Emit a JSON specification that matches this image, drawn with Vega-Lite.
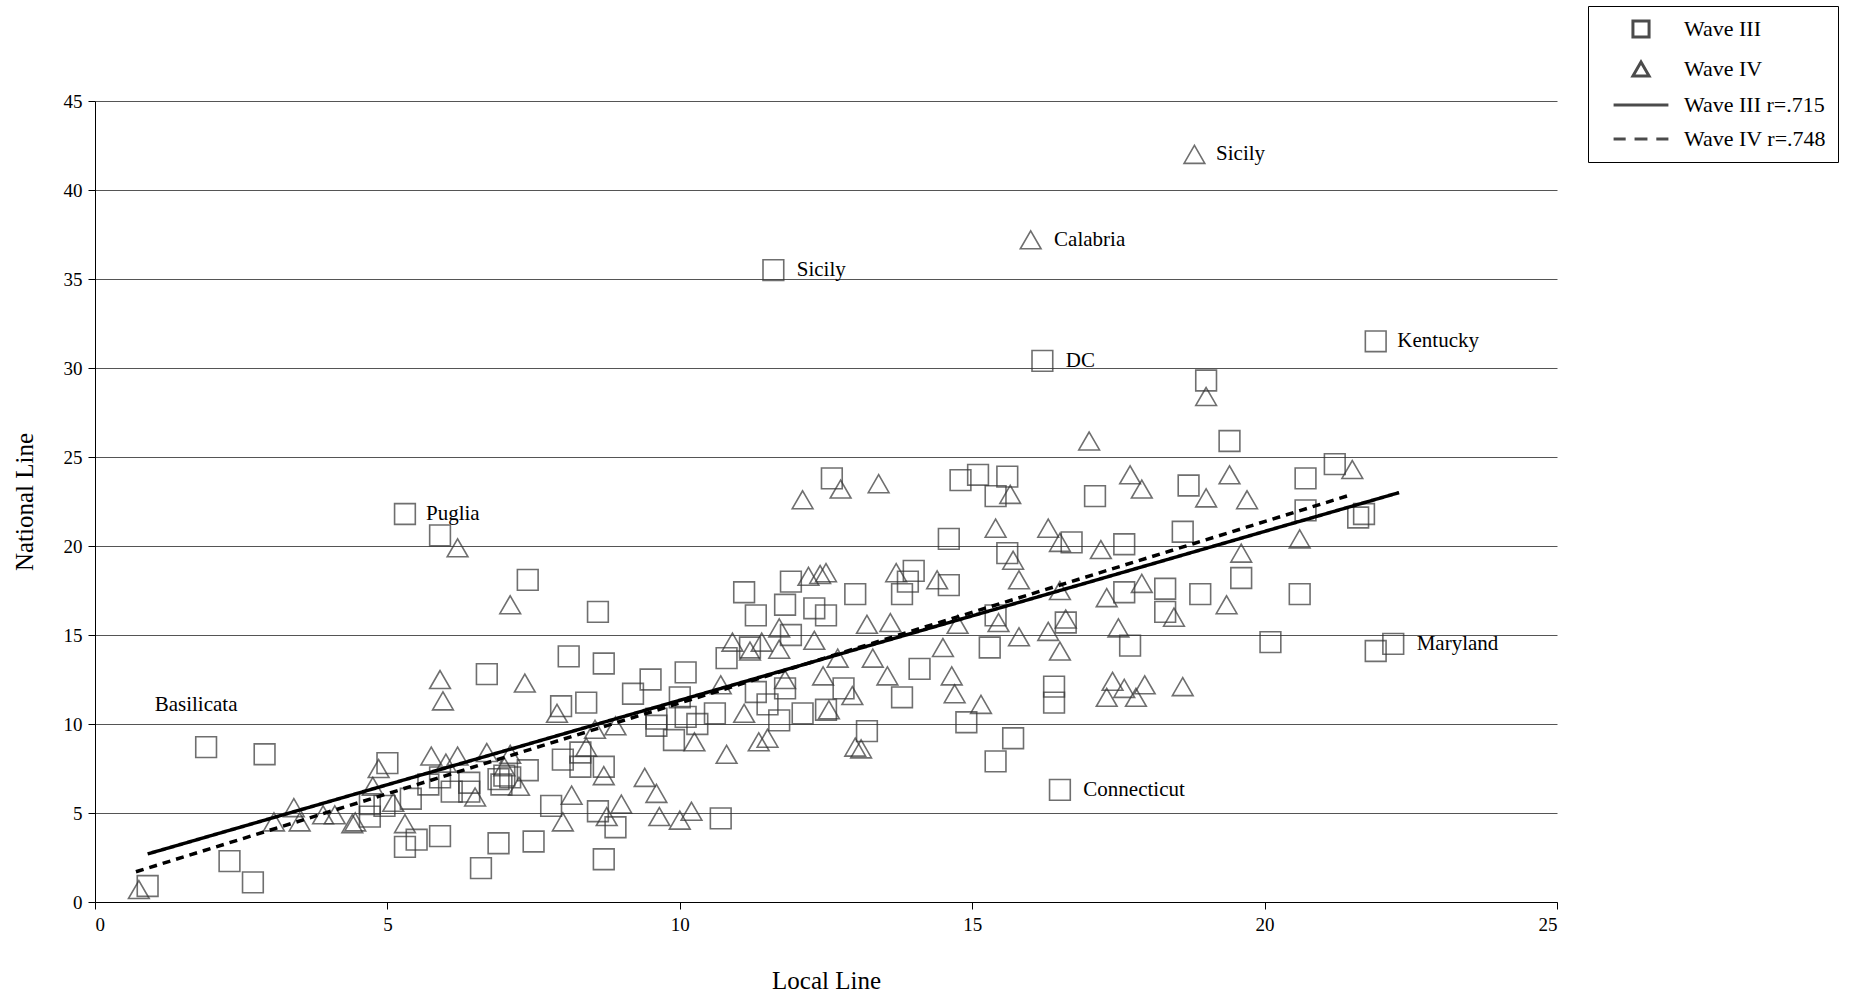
{
  "$schema": "https://vega.github.io/schema/vega-lite/v6.json",
  "width": 1462,
  "height": 801,
  "autosize": "none",
  "padding": {"left": 95, "top": 101, "right": 309, "bottom": 97},
  "config": {
    "font": "Liberation Serif",
    "view": {"stroke": null},
    "axis": {"labelFont": "Liberation Serif", "titleFont": "Liberation Serif", "labelFontSize": 19, "titleFontSize": 25, "titleFontWeight": "normal", "labelColor": "#000", "titleColor": "#000", "domainColor": "#000", "tickColor": "#000"}
  },
  "datasets": {
    "pts": [
      {"s":"Wave III","x":0.9,"y":0.9},{"s":"Wave III","x":2.3,"y":2.3},{"s":"Wave III","x":1.9,"y":8.7},{"s":"Wave III","x":2.9,"y":8.3},
      {"s":"Wave III","x":2.7,"y":1.1},{"s":"Wave III","x":5.3,"y":21.8},{"s":"Wave III","x":5.9,"y":20.6},{"s":"Wave III","x":4.95,"y":5.4},
      {"s":"Wave III","x":5.0,"y":7.8},{"s":"Wave III","x":5.3,"y":3.1},{"s":"Wave III","x":5.5,"y":3.5},{"s":"Wave III","x":5.9,"y":3.7},
      {"s":"Wave III","x":6.6,"y":1.9},{"s":"Wave III","x":6.9,"y":3.3},{"s":"Wave III","x":7.5,"y":3.4},{"s":"Wave III","x":6.7,"y":12.8},
      {"s":"Wave III","x":7.4,"y":18.1},{"s":"Wave III","x":8.1,"y":13.8},{"s":"Wave III","x":8.6,"y":16.3},{"s":"Wave III","x":8.7,"y":13.4},
      {"s":"Wave III","x":8.7,"y":2.4},{"s":"Wave III","x":8.9,"y":4.2},{"s":"Wave III","x":8.6,"y":5.1},{"s":"Wave III","x":11.6,"y":35.5},
      {"s":"Wave III","x":16.2,"y":30.4},{"s":"Wave III","x":21.9,"y":31.5},{"s":"Wave III","x":19.0,"y":29.3},{"s":"Wave III","x":22.2,"y":14.5},
      {"s":"Wave III","x":21.9,"y":14.1},{"s":"Wave III","x":16.5,"y":6.3},{"s":"Wave III","x":20.1,"y":14.6},{"s":"Wave III","x":20.6,"y":17.3},
      {"s":"Wave III","x":20.7,"y":22.0},{"s":"Wave III","x":20.7,"y":23.8},{"s":"Wave III","x":21.2,"y":24.6},{"s":"Wave III","x":21.6,"y":21.6},
      {"s":"Wave III","x":21.7,"y":21.8},{"s":"Wave III","x":19.4,"y":25.9},{"s":"Wave III","x":19.6,"y":18.2},{"s":"Wave III","x":18.9,"y":17.3},
      {"s":"Wave III","x":18.7,"y":23.4},{"s":"Wave III","x":18.6,"y":20.8},{"s":"Wave III","x":18.3,"y":16.3},{"s":"Wave III","x":18.3,"y":17.6},
      {"s":"Wave III","x":17.7,"y":14.4},{"s":"Wave III","x":17.6,"y":17.4},{"s":"Wave III","x":17.6,"y":20.1},{"s":"Wave III","x":17.1,"y":22.8},
      {"s":"Wave III","x":16.7,"y":20.2},{"s":"Wave III","x":16.6,"y":15.7},{"s":"Wave III","x":16.4,"y":12.1},{"s":"Wave III","x":16.4,"y":11.2},
      {"s":"Wave III","x":15.7,"y":9.2},{"s":"Wave III","x":15.4,"y":7.9},{"s":"Wave III","x":14.9,"y":10.1},{"s":"Wave III","x":14.8,"y":23.7},
      {"s":"Wave III","x":15.1,"y":24.0},{"s":"Wave III","x":15.4,"y":22.8},{"s":"Wave III","x":15.6,"y":23.9},{"s":"Wave III","x":15.6,"y":19.6},
      {"s":"Wave III","x":15.4,"y":16.1},{"s":"Wave III","x":15.3,"y":14.3},{"s":"Wave III","x":14.6,"y":17.8},{"s":"Wave III","x":14.6,"y":20.4},
      {"s":"Wave III","x":14.0,"y":18.6},{"s":"Wave III","x":13.9,"y":18.0},{"s":"Wave III","x":13.8,"y":17.3},{"s":"Wave III","x":14.1,"y":13.1},
      {"s":"Wave III","x":13.8,"y":11.5},{"s":"Wave III","x":13.2,"y":9.6},{"s":"Wave III","x":13.0,"y":17.3},{"s":"Wave III","x":12.8,"y":12.0},
      {"s":"Wave III","x":12.6,"y":23.8},{"s":"Wave III","x":12.5,"y":16.1},{"s":"Wave III","x":12.3,"y":16.5},{"s":"Wave III","x":12.1,"y":10.6},
      {"s":"Wave III","x":11.9,"y":18.0},{"s":"Wave III","x":11.8,"y":16.7},{"s":"Wave III","x":11.8,"y":12.0},{"s":"Wave III","x":11.7,"y":10.2},
      {"s":"Wave III","x":11.3,"y":16.1},{"s":"Wave III","x":11.1,"y":17.4},{"s":"Wave III","x":10.8,"y":13.7},{"s":"Wave III","x":11.3,"y":11.8},
      {"s":"Wave III","x":11.5,"y":11.1},{"s":"Wave III","x":10.7,"y":4.7},{"s":"Wave III","x":10.6,"y":10.6},{"s":"Wave III","x":10.1,"y":12.9},
      {"s":"Wave III","x":10.1,"y":10.4},{"s":"Wave III","x":10.0,"y":11.5},{"s":"Wave III","x":9.9,"y":9.1},{"s":"Wave III","x":9.6,"y":9.9},
      {"s":"Wave III","x":9.5,"y":12.5},{"s":"Wave III","x":9.2,"y":11.7},{"s":"Wave III","x":8.4,"y":11.2},{"s":"Wave III","x":8.3,"y":7.6},
      {"s":"Wave III","x":8.3,"y":8.4},{"s":"Wave III","x":8.0,"y":8.0},{"s":"Wave III","x":7.97,"y":11.0},{"s":"Wave III","x":7.8,"y":5.4},
      {"s":"Wave III","x":7.4,"y":7.4},{"s":"Wave III","x":7.0,"y":7.1},{"s":"Wave III","x":6.95,"y":6.6},{"s":"Wave III","x":6.4,"y":6.7},
      {"s":"Wave III","x":6.4,"y":6.2},{"s":"Wave III","x":6.1,"y":6.2},{"s":"Wave III","x":5.9,"y":7.0},{"s":"Wave III","x":5.7,"y":6.6},
      {"s":"Wave III","x":5.4,"y":5.8},{"s":"Wave III","x":4.7,"y":5.5},{"s":"Wave III","x":4.7,"y":4.8},{"s":"Wave III","x":8.7,"y":7.6},
      {"s":"Wave III","x":9.6,"y":10.3},{"s":"Wave III","x":10.3,"y":10.0},{"s":"Wave III","x":11.2,"y":14.3},{"s":"Wave III","x":11.9,"y":15.0},
      {"s":"Wave III","x":12.5,"y":10.8},{"s":"Wave III","x":6.9,"y":6.9},{"s":"Wave III","x":7.1,"y":7.0},
      {"s":"Wave IV","x":0.75,"y":0.7},{"s":"Wave IV","x":3.06,"y":4.5},{"s":"Wave IV","x":3.4,"y":5.3},{"s":"Wave IV","x":3.5,"y":4.5},
      {"s":"Wave IV","x":3.9,"y":4.9},{"s":"Wave IV","x":4.1,"y":4.9},{"s":"Wave IV","x":4.4,"y":4.4},{"s":"Wave IV","x":4.45,"y":4.5},
      {"s":"Wave IV","x":4.75,"y":6.5},{"s":"Wave IV","x":4.85,"y":7.5},{"s":"Wave IV","x":5.1,"y":5.6},{"s":"Wave IV","x":5.3,"y":4.4},
      {"s":"Wave IV","x":5.75,"y":8.2},{"s":"Wave IV","x":5.9,"y":12.5},{"s":"Wave IV","x":5.95,"y":11.3},{"s":"Wave IV","x":6.0,"y":7.8},
      {"s":"Wave IV","x":6.2,"y":19.9},{"s":"Wave IV","x":6.2,"y":8.2},{"s":"Wave IV","x":6.5,"y":5.9},{"s":"Wave IV","x":6.7,"y":8.4},
      {"s":"Wave IV","x":7.1,"y":8.3},{"s":"Wave IV","x":7.1,"y":16.7},{"s":"Wave IV","x":7.25,"y":6.5},{"s":"Wave IV","x":7.35,"y":12.3},
      {"s":"Wave IV","x":7.9,"y":10.6},{"s":"Wave IV","x":8.0,"y":4.5},{"s":"Wave IV","x":8.15,"y":6.0},{"s":"Wave IV","x":8.4,"y":8.7},
      {"s":"Wave IV","x":8.55,"y":9.7},{"s":"Wave IV","x":8.7,"y":7.1},{"s":"Wave IV","x":8.75,"y":4.8},{"s":"Wave IV","x":8.9,"y":9.9},
      {"s":"Wave IV","x":9.0,"y":5.5},{"s":"Wave IV","x":9.4,"y":7.0},{"s":"Wave IV","x":9.6,"y":6.1},{"s":"Wave IV","x":9.65,"y":4.8},
      {"s":"Wave IV","x":10.0,"y":4.6},{"s":"Wave IV","x":10.2,"y":5.1},{"s":"Wave IV","x":10.25,"y":9.0},{"s":"Wave IV","x":10.8,"y":8.3},
      {"s":"Wave IV","x":10.7,"y":12.2},{"s":"Wave IV","x":10.9,"y":14.6},{"s":"Wave IV","x":11.1,"y":10.6},{"s":"Wave IV","x":11.2,"y":14.1},
      {"s":"Wave IV","x":11.4,"y":14.6},{"s":"Wave IV","x":11.5,"y":9.2},{"s":"Wave IV","x":11.7,"y":15.4},{"s":"Wave IV","x":11.8,"y":12.5},
      {"s":"Wave IV","x":11.7,"y":14.2},{"s":"Wave IV","x":12.1,"y":22.6},{"s":"Wave IV","x":12.3,"y":14.7},{"s":"Wave IV","x":12.4,"y":18.4},
      {"s":"Wave IV","x":12.5,"y":18.5},{"s":"Wave IV","x":12.45,"y":12.7},{"s":"Wave IV","x":12.55,"y":10.8},{"s":"Wave IV","x":12.7,"y":13.7},
      {"s":"Wave IV","x":12.75,"y":23.2},{"s":"Wave IV","x":12.95,"y":11.6},{"s":"Wave IV","x":13.0,"y":8.7},{"s":"Wave IV","x":13.1,"y":8.6},
      {"s":"Wave IV","x":13.2,"y":15.6},{"s":"Wave IV","x":13.3,"y":13.7},{"s":"Wave IV","x":13.4,"y":23.5},{"s":"Wave IV","x":13.55,"y":12.7},
      {"s":"Wave IV","x":13.6,"y":15.7},{"s":"Wave IV","x":13.7,"y":18.5},{"s":"Wave IV","x":14.4,"y":18.1},{"s":"Wave IV","x":14.5,"y":14.3},
      {"s":"Wave IV","x":14.65,"y":12.7},{"s":"Wave IV","x":14.7,"y":11.7},{"s":"Wave IV","x":14.75,"y":15.6},{"s":"Wave IV","x":15.15,"y":11.1},
      {"s":"Wave IV","x":15.4,"y":21.0},{"s":"Wave IV","x":15.65,"y":22.9},{"s":"Wave IV","x":15.7,"y":19.2},{"s":"Wave IV","x":15.8,"y":18.1},
      {"s":"Wave IV","x":15.8,"y":14.9},{"s":"Wave IV","x":16.3,"y":21.0},{"s":"Wave IV","x":16.3,"y":15.2},{"s":"Wave IV","x":16.5,"y":20.2},
      {"s":"Wave IV","x":16.5,"y":17.5},{"s":"Wave IV","x":16.5,"y":14.1},{"s":"Wave IV","x":16.6,"y":15.9},{"s":"Wave IV","x":17.0,"y":25.9},
      {"s":"Wave IV","x":17.2,"y":19.8},{"s":"Wave IV","x":17.3,"y":17.1},{"s":"Wave IV","x":17.3,"y":11.5},{"s":"Wave IV","x":17.4,"y":12.4},
      {"s":"Wave IV","x":17.5,"y":15.4},{"s":"Wave IV","x":17.6,"y":12.0},{"s":"Wave IV","x":17.7,"y":24.0},{"s":"Wave IV","x":17.8,"y":11.5},
      {"s":"Wave IV","x":17.9,"y":17.9},{"s":"Wave IV","x":17.95,"y":12.2},{"s":"Wave IV","x":17.9,"y":23.2},{"s":"Wave IV","x":18.45,"y":16.0},
      {"s":"Wave IV","x":18.6,"y":12.1},{"s":"Wave IV","x":19.0,"y":22.7},{"s":"Wave IV","x":19.0,"y":28.4},{"s":"Wave IV","x":18.8,"y":42.0},
      {"s":"Wave IV","x":16.0,"y":37.2},{"s":"Wave IV","x":19.35,"y":16.7},{"s":"Wave IV","x":19.4,"y":24.0},{"s":"Wave IV","x":19.6,"y":19.6},
      {"s":"Wave IV","x":19.7,"y":22.6},{"s":"Wave IV","x":20.6,"y":20.4},{"s":"Wave IV","x":21.5,"y":24.3},{"s":"Wave IV","x":15.45,"y":15.7},
      {"s":"Wave IV","x":11.35,"y":9.0},{"s":"Wave IV","x":7.0,"y":7.6},{"s":"Wave IV","x":12.2,"y":18.3}
    ],
    "fits": [
      {"s":"Wave III r=.715","x":0.9,"y":2.7},{"s":"Wave III r=.715","x":22.3,"y":23.0},
      {"s":"Wave IV r=.748","x":0.7,"y":1.7},{"s":"Wave IV r=.748","x":21.5,"y":22.9}
    ],
    "labels": [
      {"t":"Puglia","x":5.66,"y":21.8},{"t":"Sicily","x":12.0,"y":35.5},{"t":"DC","x":16.6,"y":30.4},
      {"t":"Kentucky","x":22.27,"y":31.5},{"t":"Maryland","x":22.6,"y":14.5},{"t":"Connecticut","x":16.9,"y":6.3},
      {"t":"Sicily","x":19.17,"y":42.0},{"t":"Calabria","x":16.4,"y":37.2},{"t":"Basilicata","x":1.02,"y":11.05}
    ]
  },
  "layer": [
    {
      "data": {"name": "pts"},
      "mark": {"type": "point", "filled": false, "size": 430, "strokeWidth": 1.6, "color": "#333"},
      "encoding": {
        "x": {"field": "x", "type": "quantitative", "scale": {"domain": [0, 25], "nice": false},
          "axis": {"title": "Local Line", "values": [0,5,10,15,20,25], "format": "d", "grid": false, "titlePadding": 34, "tickSize": 7, "labelPadding": 6}},
        "y": {"field": "y", "type": "quantitative", "scale": {"domain": [0, 45], "nice": false},
          "axis": {"title": "National Line", "values": [0,5,10,15,20,25,30,35,40,45], "format": "d", "grid": true, "gridColor": "#555", "gridWidth": 1, "titlePadding": 26, "tickSize": 7, "labelPadding": 6}},
        "shape": {"field": "s", "type": "nominal",
          "scale": {"domain": ["Wave III","Wave IV","Wave III r=.715","Wave IV r=.748"],
                    "range": ["square","triangle-up","M-3.4,0L3.4,0","M-3.4,0L-1.9,0M-0.8,0L0.8,0M1.9,0L3.4,0"]},
          "legend": {"title": null, "orient": "none", "legendX": 1493, "legendY": -95, "strokeColor": "#000", "padding": 12,
            "labelFont": "Liberation Serif", "labelFontSize": 22, "labelColor": "#000", "symbolSize": 260, "symbolStrokeWidth": 3,
            "symbolStrokeColor": "#000", "symbolFillColor": "transparent", "symbolOffset": 30, "rowPadding": 12, "labelOffset": 32}}
      }
    },
    {
      "data": {"name": "fits"},
      "mark": {"type": "line", "color": "#000", "strokeWidth": 3.5},
      "encoding": {
        "x": {"field": "x", "type": "quantitative"},
        "y": {"field": "y", "type": "quantitative"},
        "detail": {"field": "s"},
        "strokeDash": {"field": "s", "type": "nominal", "scale": {"domain": ["Wave III r=.715","Wave IV r=.748"], "range": [[1,0],[8,6]]}, "legend": null}
      }
    },
    {
      "data": {"name": "labels"},
      "mark": {"type": "text", "align": "left", "baseline": "middle", "fontSize": 21, "font": "Liberation Serif", "color": "#000"},
      "encoding": {
        "x": {"field": "x", "type": "quantitative"},
        "y": {"field": "y", "type": "quantitative"},
        "text": {"field": "t"}
      }
    }
  ]
}
